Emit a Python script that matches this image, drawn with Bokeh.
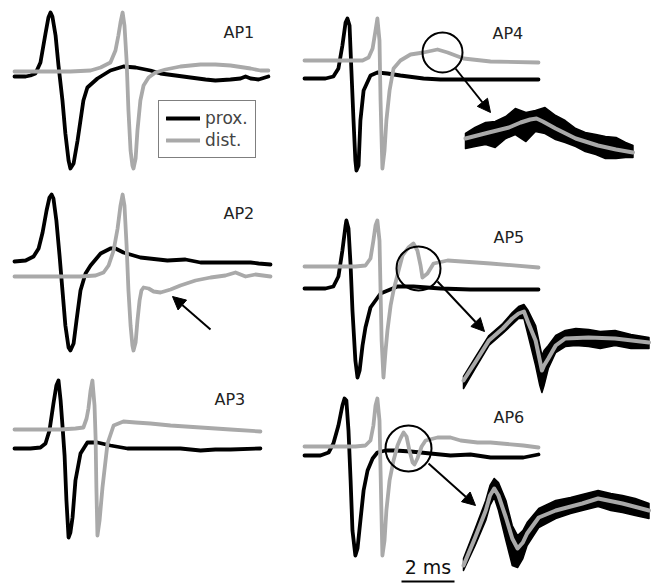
import numpy as np
from bokeh.plotting import figure
from bokeh.models import Range1d, Arrow, NormalHead, Label, Legend, LegendItem
from bokeh.embed import file_html
from bokeh.resources import INLINE

# ---------------- data: time (ms) and amplitude (a.u., up = positive) ----------------
ap1_prox_t = [0, 0.42, 0.60, 0.79, 0.98, 1.17, 1.28, 1.36, 1.43, 1.55, 1.66, 1.81, 1.92, 2.04, 2.11, 2.23, 2.38, 2.49, 2.60, 2.75,
              3.13, 3.62, 4.11, 4.57, 5.13, 5.51, 6.08, 6.64, 7.21, 7.58, 8.15, 8.53, 8.72, 8.91, 9.21, 9.58]
ap1_prox_v = [-1, -1, 0, 2, 13, 42, 58, 63, 59, 40, 10, -25, -58, -85, -93, -88, -65, -45, -25, -12,
              -3, 5, 9, 8, 5, 2, 0, -2, -4, -5, -4, -3, -1, -3, -4, -1]
ap1_dist_t = [0, 0.98, 2.11, 2.87, 3.25, 3.62, 3.81, 3.92, 4.00, 4.08, 4.15, 4.23, 4.30, 4.38, 4.45, 4.49, 4.57, 4.64, 4.75, 4.87,
              5.06, 5.32, 5.70, 6.26, 7.02, 7.58, 8.15, 8.91, 9.28, 9.58]
ap1_dist_v = [0, 0, 0, 1, 4, 9, 21, 36, 49, 59, 46, 11, -39, -79, -94, -97, -87, -59, -29, -14,
              -6, -1, 2, 5, 7, 7, 6, 3, 1, 1]

ap2_prox_t = [0, 0.42, 0.72, 0.91, 1.06, 1.21, 1.32, 1.40, 1.47, 1.58, 1.70, 1.81, 1.92, 2.04, 2.11, 2.23, 2.34, 2.49, 2.68, 2.87,
              3.25, 3.62, 3.81, 4.11, 4.75, 5.77, 6.45, 7.02, 8.26, 8.91, 9.21, 9.66]
ap2_prox_v = [0, 1, 5, 13, 29, 51, 64, 67, 63, 41, 6, -29, -64, -86, -89, -82, -59, -29, -12, -4,
              8, 13, 13, 9, 4, 1, 2, -1, -1, -1, -2, -3]
ap2_dist_t = [0, 1.36, 2.49, 3.06, 3.36, 3.55, 3.74, 3.89, 4.00, 4.08, 4.15, 4.23, 4.30, 4.38, 4.45, 4.49, 4.57, 4.64, 4.72, 4.79,
              4.87, 5.06, 5.25, 5.51, 5.89, 6.26, 6.83, 7.40, 7.96, 8.34, 8.72, 9.09, 9.66]
ap2_dist_v = [0, 0, 0, 1, 4, 11, 26, 48, 71, 82, 71, 31, -14, -49, -69, -74, -66, -44, -24, -14,
              -11, -12, -15, -16, -13, -9, -4, -1, 1, 4, 0, 2, 0]

ap3_prox_t = [0, 0.60, 0.98, 1.17, 1.32, 1.47, 1.58, 1.66, 1.74, 1.81, 1.89, 1.96, 2.04, 2.11, 2.19, 2.30, 2.49, 2.75, 3.13, 3.62,
              4.26, 5.51, 6.26, 7.02, 7.58, 8.15, 9.28]
ap3_prox_v = [0, 0, 1, 5, 18, 45, 63, 68, 48, 23, -7, -52, -89, -84, -69, -32, -5, 6, 6, 3,
              0, 0, 0, -2, -1, -1, 0]
ap3_dist_t = [0, 0.98, 1.74, 2.30, 2.60, 2.72, 2.79, 2.87, 2.94, 3.02, 3.06, 3.09, 3.13, 3.21, 3.32, 3.51, 3.74, 4.11, 4.57, 5.13,
              5.89, 7.02, 8.15, 9.28]
ap3_dist_v = [0, 0, 0, 1, 2, 11, 21, 39, 49, 24, -8, -58, -106, -91, -58, -14, 4, 8, 7, 6,
              4, 2, 0, -2]

ap4_prox_t = [0, 0.79, 1.09, 1.28, 1.43, 1.55, 1.62, 1.70, 1.77, 1.85, 1.92, 1.96, 2.04, 2.11, 2.23, 2.49, 2.75, 3.13, 3.62, 4.49,
              5.13, 6.26, 7.40, 8.83]
ap4_prox_v = [0, 0, 2, 10, 33, 56, 60, 53, 8, -42, -82, -92, -87, -42, -12, 3, 6, 5, 3, 0,
              -1, -1, -1, -1]
ap4_dist_t = [0, 0.98, 1.74, 2.19, 2.42, 2.57, 2.68, 2.75, 2.83, 2.87, 2.91, 2.94, 3.02, 3.09, 3.21, 3.36, 3.62, 4.00, 4.49, 5.02,
              5.40, 6.00, 7.02, 8.83]
ap4_dist_v = [0, 0, 0, 0, 3, 12, 30, 42, 20, -40, -80, -108, -90, -60, -30, -8, 0, 6, 8, 11,
              8, 2, -1, -2]

ap5_prox_t = [0, 0.79, 1.09, 1.28, 1.43, 1.55, 1.58, 1.66, 1.74, 1.81, 1.92, 2.00, 2.08, 2.19, 2.30, 2.49, 2.87, 3.51, 4.11, 5.13,
              6.26, 7.40, 8.83]
ap5_prox_v = [0, 0, 2, 12, 38, 63, 68, 60, 23, -22, -72, -89, -82, -57, -39, -19, -5, 2, 2, 0,
              -1, -1, -1]
ap5_dist_t = [0, 0.98, 1.92, 2.30, 2.49, 2.60, 2.68, 2.75, 2.83, 2.87, 2.91, 2.98, 3.06, 3.13, 3.25, 3.36, 3.55, 3.70, 3.92, 4.11,
              4.26, 4.38, 4.45, 4.64, 4.87, 5.40, 7.02, 8.83]
ap5_dist_v = [0, 0, 0, 1, 8, 26, 41, 46, 26, -24, -74, -111, -84, -64, -39, -24, -4, 11, 19, 23,
              16, 1, -11, -7, 3, 6, 3, -1]

ap6_prox_t = [0, 0.60, 0.91, 1.09, 1.28, 1.43, 1.51, 1.58, 1.66, 1.74, 1.81, 1.92, 2.00, 2.11, 2.23, 2.38, 2.57, 2.75, 3.06, 3.43,
              4.00, 4.75, 5.51, 6.26, 7.02, 8.26, 8.83]
ap6_prox_v = [0, 0, 3, 12, 30, 50, 57, 55, 25, -25, -75, -100, -93, -65, -35, -15, -3, 3, 5, 5,
              4, 2, 0, 1, -2, -2, 1]
ap6_dist_t = [0, 0.98, 1.92, 2.30, 2.49, 2.60, 2.68, 2.75, 2.83, 2.87, 2.91, 2.94, 3.02, 3.09, 3.21, 3.36, 3.51, 3.62, 3.74, 3.85,
              3.96, 4.08, 4.15, 4.26, 4.42, 4.57, 5.02, 5.51, 5.89, 6.53, 7.02, 8.26, 8.83]
ap6_dist_v = [0, 0, 0, 1, 6, 21, 41, 48, 26, -24, -74, -109, -94, -64, -34, -14, 1, 8, 14, 10,
              -4, -16, -18, -12, 0, 6, 9, 9, 6, 4, 4, 1, -1]

# zoomed (circled) segments: distal mean and envelope of the individual sweeps
ap4_zoom_t = [0, 0.11, 0.22, 0.41, 0.52, 0.61, 0.67, 0.73, 0.85, 1.04, 1.25, 1.42, 1.58]
ap4_zoom_v = [0, 3, 6, 11, 16, 19, 20, 17, 10, 0, -7, -11, -14]
ap4_sweeps_t = [0, 0.09, 0.19, 0.28, 0.38, 0.47, 0.57, 0.66, 0.75, 0.85, 0.94, 1.04, 1.13, 1.23, 1.32, 1.42, 1.51, 1.58]
ap4_sweeps_hi = [5, 11, 16, 17, 22, 30, 26, 28, 31, 23, 18, 10, 6, 4, 2, 1, -4, -7]
ap4_sweeps_lo = [-10, -8, -6, -9, 0, 4, -3, 7, 5, -1, -4, -8, -13, -16, -20, -20, -19, -19]

ap5_zoom_t = [0, 0.11, 0.24, 0.37, 0.46, 0.52, 0.57, 0.61, 0.68, 0.72, 0.74, 0.76, 0.80, 0.87, 0.96, 1.18, 1.43, 1.75]
ap5_zoom_v = [-42, -24, -2, 10, 20, 25, 27, 16, -2, -22, -32, -27, -20, -7, 0, 1, 0, -4]
ap5_sweeps_t = [0, 0.11, 0.24, 0.37, 0.46, 0.52, 0.57, 0.61, 0.68, 0.72, 0.74, 0.76, 0.80, 0.87, 0.96, 1.06, 1.18, 1.29, 1.43, 1.58, 1.75]
ap5_sweeps_hi = [-38, -19, 3, 15, 26, 32, 34, 28, 13, -7, -17, -12, -7, 3, 8, 10, 9, 7, 8, 4, 1]
ap5_sweeps_lo = [-50, -30, -7, 5, 14, 20, 20, 3, -27, -47, -54, -47, -30, -14, -8, -7, -8, -10, -7, -10, -10]

ap6_zoom_t = [0, 0.11, 0.21, 0.25, 0.29, 0.33, 0.40, 0.46, 0.51, 0.56, 0.60, 0.71, 0.87, 1.12, 1.27, 1.50, 1.75]
ap6_zoom_v = [-55, -27, 0, 15, 22, 15, -7, -28, -38, -32, -23, -7, 0, 7, 12, 7, 0]
ap6_sweeps_t = [0, 0.11, 0.21, 0.25, 0.29, 0.33, 0.40, 0.46, 0.51, 0.56, 0.60, 0.71, 0.87, 1.01, 1.12, 1.27, 1.39, 1.50, 1.62, 1.75]
ap6_sweeps_hi = [-48, -18, 10, 25, 32, 28, 10, -15, -25, -20, -12, 2, 10, 13, 16, 20, 17, 15, 12, 7]
ap6_sweeps_lo = [-60, -35, -10, 5, 13, 0, -30, -55, -57, -48, -35, -17, -8, -3, 0, 4, 0, -2, -5, -8]

labels = ["AP1", "AP2", "AP3", "AP4", "AP5", "AP6"]
legend_labels = ["prox.", "dist."]
scale_label = "2 ms"
scale_ms = 2.0

# ---------------- layout / style ----------------
BLACK = "#000000"
GREY = "#a9a9a9"
SX = 26.5        # px per ms, main traces
ZSX = 106.0      # px per ms, zoomed segments
LW = 3.8

W, H = 660, 583
p = figure(width=W, height=H, output_backend="svg", toolbar_location=None,
           x_range=Range1d(0, W), y_range=Range1d(H, 0), min_border=0)
p.axis.visible = False
p.grid.visible = False
p.outline_line_color = None
p.background_fill_color = "white"
p.border_fill_color = "white"

traces = [
    # label, x0, prox baseline, dist baseline, label pos
    ("AP1", 14, 75, 71, (223, 32), ap1_prox_t, ap1_prox_v, ap1_dist_t, ap1_dist_v),
    ("AP2", 14, 261, 276, (223, 213), ap2_prox_t, ap2_prox_v, ap2_dist_t, ap2_dist_v),
    ("AP3", 14, 448, 429, (214, 399), ap3_prox_t, ap3_prox_v, ap3_dist_t, ap3_dist_v),
    ("AP4", 304, 78, 60, (492, 33), ap4_prox_t, ap4_prox_v, ap4_dist_t, ap4_dist_v),
    ("AP5", 304, 288, 266, (493, 237), ap5_prox_t, ap5_prox_v, ap5_dist_t, ap5_dist_v),
    ("AP6", 304, 455, 446, (493, 417), ap6_prox_t, ap6_prox_v, ap6_dist_t, ap6_dist_v),
]

legend_renderers = []
for name, x0, yb_p, yb_d, (lx, ly), pt, pv, dt, dv in traces:
    rb = p.line(x0 + np.array(pt) * SX, yb_p - np.array(pv), line_color=BLACK, line_width=LW,
                line_join="round", line_cap="round")
    rg = p.line(x0 + np.array(dt) * SX, yb_d - np.array(dv), line_color=GREY, line_width=LW,
                line_join="round", line_cap="round")
    if name == "AP1":
        legend_renderers = [rb, rg]
    p.add_layout(Label(x=lx, y=ly, text=name, text_font="DejaVu Sans", text_font_size="16px",
                       text_baseline="middle", text_color="#222222"))

# circles marking the zoomed region
for cx, cy, d in [(442, 52, 40), (418, 268, 44), (408, 448, 46)]:
    p.scatter([cx], [cy], marker="circle", size=d, fill_color=None, line_color=BLACK, line_width=2)

# zoomed insets
insets = [
    (465, 138, ap4_zoom_t, ap4_zoom_v, ap4_sweeps_t, ap4_sweeps_hi, ap4_sweeps_lo),
    (463, 338, ap5_zoom_t, ap5_zoom_v, ap5_sweeps_t, ap5_sweeps_hi, ap5_sweeps_lo),
    (463, 510, ap6_zoom_t, ap6_zoom_v, ap6_sweeps_t, ap6_sweeps_hi, ap6_sweeps_lo),
]
for x0, y0, zt, zv, st, hi, lo in insets:
    sx = x0 + np.array(st) * ZSX
    px = np.concatenate([sx, sx[::-1]])
    py = np.concatenate([y0 - np.array(hi), (y0 - np.array(lo))[::-1]])
    p.patch(px, py, fill_color=BLACK, line_color=BLACK, line_width=1.5, line_join="round")
    p.line(x0 + np.array(zt) * ZSX, y0 - np.array(zv), line_color=GREY, line_width=4,
           line_join="round", line_cap="round")

# arrows
for xs, ys, xe, ye in [(210, 329, 172, 296), (455, 68, 490, 112), (437, 281, 484, 331), (428, 463, 475, 505)]:
    p.add_layout(Arrow(end=NormalHead(size=13, fill_color=BLACK, line_color=BLACK, line_width=1),
                       x_start=xs, y_start=ys, x_end=xe, y_end=ye, line_color=BLACK, line_width=2))

# scale bar
bar_x0 = 401
p.line([bar_x0, bar_x0 + scale_ms * SX], [581, 581], line_color=BLACK, line_width=2)
p.add_layout(Label(x=bar_x0 + scale_ms * SX / 2, y=566, text=scale_label, text_font="DejaVu Sans",
                   text_font_size="19px", text_align="center", text_baseline="middle", text_color="#111111"))

# legend
legend = Legend(items=[LegendItem(label=legend_labels[0], renderers=[legend_renderers[0]]),
                       LegendItem(label=legend_labels[1], renderers=[legend_renderers[1]])],
                location=(158, H - 158), margin=0, padding=7, spacing=2, label_standoff=5,
                glyph_width=34, glyph_height=20, label_height=20,
                label_text_font="DejaVu Sans", label_text_font_size="17px",
                border_line_color=BLACK, border_line_width=1.5,
                background_fill_color="white", background_fill_alpha=1.0)
p.add_layout(legend)

open("out.html", "w").write(file_html(p, INLINE))
